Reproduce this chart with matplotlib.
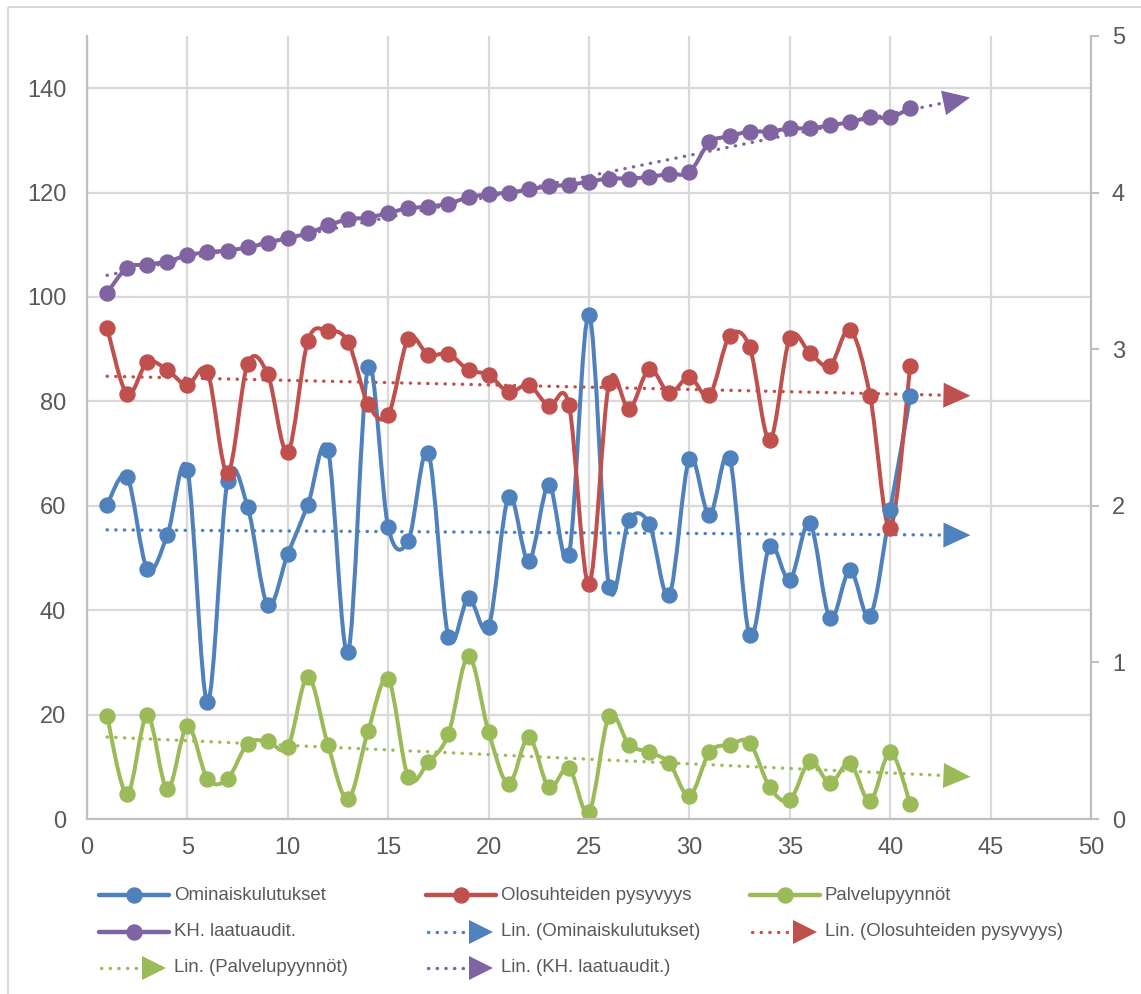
import matplotlib
matplotlib.use('Agg')
import matplotlib.pyplot as plt
from matplotlib.path import Path
from matplotlib.patches import PathPatch, Polygon, Rectangle
import numpy as np

plt.rcParams['font.family'] = ['Liberation Sans', 'DejaVu Sans']

# measurement rounds 1..41
rounds = np.arange(1, 42)

ominaiskulutukset = [60.2, 65.5, 47.9, 54.4, 66.9, 22.4, 64.8, 59.8, 41.0, 50.8,
                     60.2, 70.7, 32.0, 86.6, 55.9, 53.3, 70.1, 34.9, 42.3, 36.8,
                     61.7, 49.4, 64.0, 50.6, 96.6, 44.4, 57.3, 56.5, 42.9, 69.0,
                     58.2, 69.2, 35.2, 52.3, 45.8, 56.7, 38.5, 47.7, 38.9, 59.2,
                     81.0]
olosuhteet = [94.1, 81.4, 87.5, 86.0, 83.1, 85.6, 66.3, 87.2, 85.2, 70.3,
              91.6, 93.5, 91.4, 79.5, 77.4, 92.0, 88.9, 89.1, 86.0, 85.1,
              81.8, 83.1, 79.1, 79.3, 45.0, 83.5, 78.5, 86.2, 81.6, 84.7,
              81.2, 92.5, 90.4, 72.6, 92.1, 89.3, 86.8, 93.7, 81.0, 55.7,
              86.8]
palvelupyynnot = [19.7, 4.8, 19.9, 5.7, 17.8, 7.7, 7.7, 14.4, 14.9, 13.8,
                  27.2, 14.2, 3.8, 16.9, 26.8, 8.0, 10.9, 16.3, 31.2, 16.7,
                  6.7, 15.7, 6.1, 9.8, 1.3, 19.7, 14.2, 12.8, 10.7, 4.4,
                  12.8, 14.2, 14.6, 6.1, 3.6, 11.1, 6.9, 10.7, 3.4, 12.8,
                  2.9]
# quality audit scores, right axis (0-5)
laatuaudit = [3.36, 3.52, 3.54, 3.56, 3.60, 3.62, 3.63, 3.65, 3.68, 3.71,
              3.74, 3.79, 3.83, 3.84, 3.87, 3.90, 3.91, 3.93, 3.97, 3.99,
              4.00, 4.02, 4.04, 4.05, 4.07, 4.09, 4.09, 4.10, 4.12, 4.13,
              4.32, 4.36, 4.39, 4.39, 4.41, 4.41, 4.43, 4.45, 4.48, 4.48,
              4.54]

names = ['Ominaiskulutukset', 'Olosuhteiden pysyvyys', 'Palvelupyynnöt', 'KH. laatuaudit.']
colors = ['#4f81bd', '#c0504d', '#9bbb59', '#8064a2']
forecast = 2  # trendline extends two rounds forward

W, H = 1141, 994
fig = plt.figure(figsize=(W / 100, H / 100), dpi=100)
ax = fig.add_axes([87 / W, 1 - 819 / H, (1091 - 87) / W, (819 - 36) / H])
ax2 = ax.twinx()

text_col = '#595959'
grid_col = '#d9d9d9'
spine_col = '#bfbfbf'

ax.set_xlim(0, 50)
ax.set_ylim(0, 150)
ax2.set_ylim(0, 5)
ax.set_xticks(range(0, 51, 5))
ax.set_yticks(range(0, 141, 20))
ax2.set_yticks(range(0, 6))
ax.grid(True, color=grid_col, lw=1.6)
ax.set_axisbelow(True)
ax.tick_params(axis='both', length=0, labelsize=17, labelcolor=text_col)
ax.tick_params(axis='y', pad=15)
ax.tick_params(axis='x', pad=13)
ax2.tick_params(axis='y', length=6, width=1.5, color=spine_col, direction='out',
                labelsize=17, labelcolor=text_col, pad=9)
for a in (ax, ax2):
    a.spines['top'].set_visible(False)
    for s in ('left', 'bottom', 'right'):
        a.spines[s].set_color(spine_col)
        a.spines[s].set_linewidth(1.5)


def smooth_path(x, y):
    # Catmull-Rom style cubic Bezier through every point
    n = len(x)
    verts = [(x[0], y[0])]
    codes = [Path.MOVETO]
    for i in range(n - 1):
        x0, y0 = x[max(i - 1, 0)], y[max(i - 1, 0)]
        x1, y1 = x[i], y[i]
        x2, y2 = x[i + 1], y[i + 1]
        x3, y3 = x[min(i + 2, n - 1)], y[min(i + 2, n - 1)]
        verts += [(x1 + (x2 - x0) / 6, y1 + (y2 - y0) / 6),
                  (x2 - (x3 - x1) / 6, y2 - (y3 - y1) / 6),
                  (x2, y2)]
        codes += [Path.CURVE4] * 3
    return Path(verts, codes)


def trend_with_arrow(a, x, y, color):
    k, b = np.polyfit(x, y, 1)
    xe = x[-1] + forecast
    a.plot([x[0], xe], [k * x[0] + b, k * xe + b], color=color, lw=2.4,
           linestyle=(0, (0.1, 2.5)), dash_capstyle='round', zorder=2)
    tr = a.transData
    p_end = tr.transform((xe, k * xe + b))
    p_prev = tr.transform((xe - 1, k * (xe - 1) + b))
    u = (p_end - p_prev) / np.hypot(*(p_end - p_prev))
    nrm = np.array([-u[1], u[0]])
    base = p_end - 7 * u
    tri = np.array([base + 12.5 * nrm, p_end + 20 * u, base - 12.5 * nrm])
    a.add_patch(Polygon(tr.inverted().transform(tri), closed=True, color=color,
                        lw=0, clip_on=False, zorder=2))


series = [(ax, ominaiskulutukset), (ax, olosuhteet), (ax, palvelupyynnot), (ax2, laatuaudit)]
x = rounds.astype(float)
for (a, vals), c in zip(series, colors):
    trend_with_arrow(a, x, np.array(vals, dtype=float), c)
for (a, vals), c in zip(series, colors):
    a.add_patch(PathPatch(smooth_path(x, vals), fill=False, edgecolor=c, lw=2.9,
                          capstyle='round', joinstyle='round', zorder=3))
    a.plot(x, vals, 'o', color=c, ms=10.8, zorder=4)

# legend and outer frame drawn in pixel space
lg = fig.add_axes([0, 0, 1, 1], zorder=-1)
lg.set_xlim(0, W)
lg.set_ylim(H, 0)
lg.axis('off')
lg.add_patch(Rectangle((8, 7), W, H, fill=False, edgecolor=grid_col, lw=1.5))

entries = [(names[i], colors[i], False) for i in range(4)] + \
          [('Lin. (%s)' % names[i], colors[i], True) for i in range(4)]
col_x = [99, 426, 750]
row_y = [895, 932, 968]
for idx, (label, c, is_trend) in enumerate(entries):
    cx = col_x[idx % 3]
    cy = row_y[idx // 3]
    if is_trend:
        lg.plot([cx + 2, cx + 44], [cy, cy], color=c, lw=2.4,
                linestyle=(0, (0.1, 2.5)), dash_capstyle='round')
        lg.add_patch(Polygon([[cx + 43, cy - 12], [cx + 67, cy], [cx + 43, cy + 12]],
                             closed=True, color=c, lw=0))
    else:
        lg.plot([cx, cx + 70], [cy, cy], color=c, lw=3.2, solid_capstyle='round')
        lg.plot([cx + 35], [cy], 'o', color=c, ms=10.8)
    lg.text(cx + 75, cy, label, fontsize=13.4, color=text_col, va='center', ha='left')

fig.savefig('out.png', dpi=100)
